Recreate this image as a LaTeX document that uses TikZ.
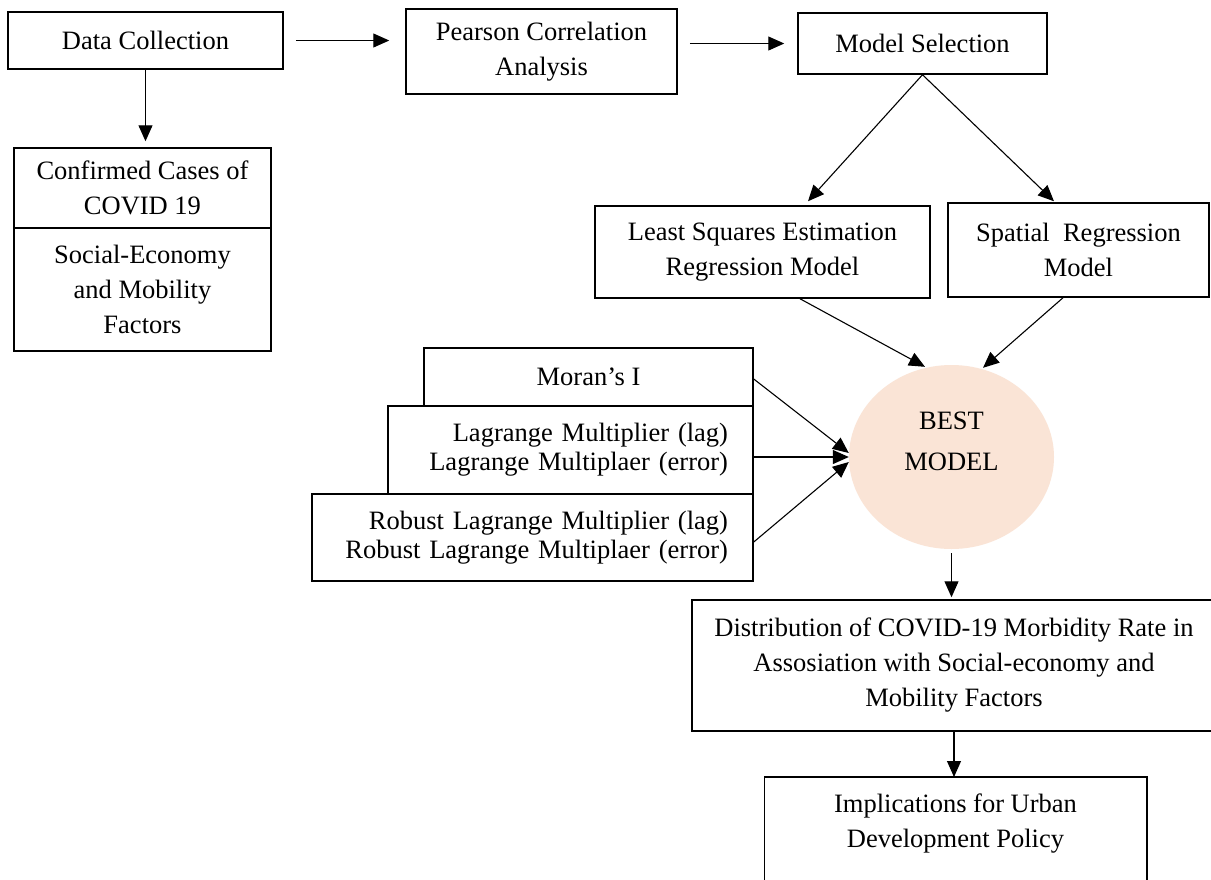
\documentclass[tikz,border=0pt]{standalone}
\usepackage{fontspec}
\setmainfont{Liberation Serif}
\usetikzlibrary{shapes.geometric,arrows.meta,calc}
\definecolor{peach}{RGB}{250,228,214}
\begin{document}
\begin{tikzpicture}[x=1pt,y=-1pt,
  box/.style={draw, line width=1.5pt, inner sep=0pt, align=center, font=\fontsize{26.5}{35}\selectfont},
  stackbox/.style={box, inner xsep=25pt, align=right, font=\fontsize{26.5}{29}\selectfont},
  arr/.style={line width=1.1pt, -{Triangle[length=16pt,width=14pt]}}]
\useasboundingbox (0,0) rectangle (1211,879);
\fill[white] (0,0) rectangle (1211,879);

\node[box, minimum width=275pt, minimum height=57pt] (dc) at (145.5,40.5) {Data Collection};
\node[box, minimum width=271pt, minimum height=85pt] (pca) at (541.5,51.5) {Pearson Correlation\\Analysis};
\node[box, minimum width=249pt, minimum height=61pt] (ms) at (922.5,43.5) {Model Selection};
\node[box, minimum width=257pt, minimum height=80pt] (cc) at (142.5,188) {Confirmed Cases of\\COVID 19};
\node[box, minimum width=257pt, minimum height=123pt] (se) at (142.5,289.5) {Social-Economy\\and Mobility\\Factors};
\node[box, minimum width=335pt, minimum height=92pt] (lse) at (762.5,252) {Least Squares Estimation\\Regression Model};
\node[box, minimum width=261pt, minimum height=94pt] (srm) at (1078.5,250) {Spatial~ Regression\\Model};

\node[box, minimum width=329pt, minimum height=58pt] (moran) at (588.5,377) {Moran’s I};
\node[stackbox, text width=315pt, minimum height=88pt] (lm) at (570.5,450) {Lagrange Multiplier (lag)\\Lagrange Multiplaer (error)};
\node[stackbox, text width=391pt, minimum height=87pt] (rlm) at (532.5,537.5) {Robust Lagrange Multiplier (lag)\\Robust Lagrange Multiplaer (error)};

\node[ellipse, fill=peach, minimum width=205pt, minimum height=184pt, inner sep=0pt] (best) at (951.5,457) {};
\node[align=center, font=\fontsize{26.5}{41}\selectfont, inner sep=0pt] (besttext) at (951.5,441.5) {BEST\\MODEL};

\node[box, minimum width=524pt, minimum height=131pt] (dist) at (954,665.5) {Distribution of COVID-19 Morbidity Rate in\\Assosiation with Social-economy and\\Mobility Factors};

\node[box, draw=none, minimum width=381pt, minimum height=91pt, anchor=north] (impl) at (955.5,777) {Implications for Urban\\Development Policy};
\draw[line width=1.5pt] (impl.north west) rectangle ([yshift=-40pt]impl.south east);

\draw[arr] ([xshift=12pt]dc.east) -- ([xshift=-16pt]dc.east -| pca.west);
\draw[arr] ([xshift=12pt]pca.east |- ms.west) -- ([xshift=-13pt]ms.west);
\draw[arr] (dc.south) -- ([yshift=6pt]dc.south |- cc.north);
\draw[arr] (ms.south) -- ([xshift=45.5pt,yshift=4pt]lse.north);
\draw[arr] (ms.south) -- ([xshift=-24.5pt,yshift=1pt]srm.north);
\draw[arr] ([xshift=37.5pt]lse.south) -- ([xshift=-26.5pt,yshift=-2pt]best.north);
\draw[arr] ([xshift=-15.5pt]srm.south) -- ([xshift=31.5pt,yshift=-3pt]best.north);
\draw[arr] ([yshift=-2pt]moran.east) -- ([yshift=4pt]best.west);
\draw[arr] (lm.east |- best.west) -- (best.west);
\draw[arr] ([yshift=-4.5pt]rlm.east) -- ([yshift=-5pt]best.west);
\draw[arr] ([yshift=-4pt]best.south) -- ([yshift=2pt]best.south |- dist.north);
\draw[arr] (dist.south) -- (dist.south |- impl.north);
\end{tikzpicture}
\end{document}
